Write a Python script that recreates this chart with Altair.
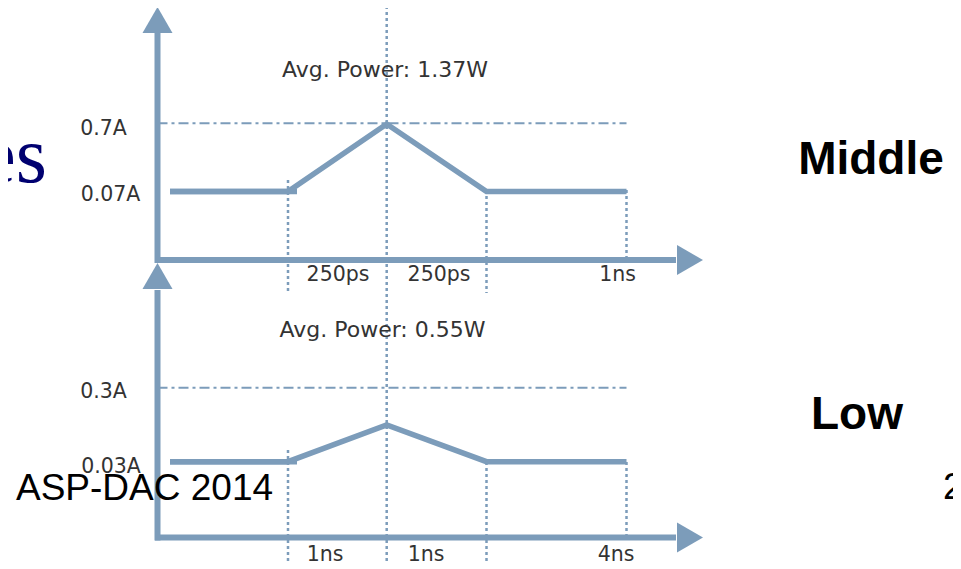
import altair as alt
import pandas as pd

STEEL = "#7C9CBA"
LABEL = "#333333"

# ---- schematic coordinate system of the diagram (time units along x, level units along y)
X_DOM = [-1.495, 7.955]
Y_DOM = [-0.235, 5.295]

# waveform breakpoints: start, rise start, peak, fall end, end
wave_t = [0.125, 1.305, 2.292, 3.29, 4.69]
mid_wave = [3.46, 3.46, 4.135, 3.46, 3.46]      # Middle mode: 0.07A -> 0.7A peak
low_wave = [0.758, 0.758, 1.125, 0.758, 0.758]   # Low mode: 0.03A -> peak
stub_t = [0.125, 1.395]                          # initial flat segment (slightly overshooting)

# reference (dash-dot) levels
ref_level = [4.142, 1.498]           # 0.7A , 0.3A
ref_t = [0.0, 4.69]

# dotted vertical guides: time, from, to
guide_t = [1.305, 3.29, 4.69, 1.305, 3.29, 4.69, 2.292]
guide_from = [3.575, 3.475, 3.475, 0.875, 0.755, 0.755, 5.375]
guide_to = [2.445, 2.445, 2.755, -0.315, -0.315, -0.025, -0.315]

# axes (two panels): x, x2, y, y2
axis_x = [0.0, -0.025, 0.0, -0.025]
axis_x2 = [0.0, 5.185, 0.0, 5.185]
axis_y = [5.045, 2.775, 2.475, 0.0]
axis_y2 = [2.745, 2.775, -0.03, 0.0]
arrow_t = [0.0, 5.325, 0.0, 5.325]
arrow_v = [5.175, 2.775, 2.615, 0.0]
arrow_shape = ["triangle-up", "triangle-right", "triangle-up", "triangle-right"]

# current labels
cur_text = ["0.7A", "0.07A", "0.3A", "0.03A"]
cur_t = [-0.54, -0.47, -0.54, -0.465]
cur_v = [4.09, 3.428, 1.455, 0.71]

# duration labels
dur_text = ["250ps", "250ps", "1ns", "1ns", "1ns", "4ns"]
dur_t = [1.805, 2.815, 4.60, 1.675, 2.685, 4.585]
dur_v = [2.625, 2.625, 2.625, -0.17, -0.17, -0.17]

# average power labels
pow_text = ["Avg. Power: 1.37W", "Avg. Power: 0.55W"]
pow_t = [2.275, 2.25]
pow_v = [4.68, 2.08]

# mode names
mode_text = ["Middle", "Low"]
mode_t = [7.135, 6.995]
mode_v = [3.775, 1.23]

# slide footer / title fragments
foot_text = ["ASP-DAC 2014", "2"]
foot_t = [-1.415, 7.855]
foot_v = [0.375, 0.385]
title_text = ["es"]
title_t = [-1.105]
title_v = [3.555]


def X(field="t"):
    return alt.X(f"{field}:Q", scale=alt.Scale(domain=X_DOM, nice=False, zero=False), axis=None)


def Y(field="v"):
    return alt.Y(f"{field}:Q", scale=alt.Scale(domain=Y_DOM, nice=False, zero=False), axis=None)


wave_rows = []
for i, (t, v) in enumerate(zip(wave_t, mid_wave)):
    wave_rows.append({"t": t, "v": v, "s": "mid", "i": i})
for i, (t, v) in enumerate(zip(wave_t, low_wave)):
    wave_rows.append({"t": t, "v": v, "s": "low", "i": i})
for i, t in enumerate(stub_t):
    wave_rows.append({"t": t, "v": mid_wave[0], "s": "mid_stub", "i": i})
    wave_rows.append({"t": t, "v": low_wave[0], "s": "low_stub", "i": i})
wave_df = pd.DataFrame(wave_rows)

ref_df = pd.DataFrame({"t": [ref_t[0]] * 2, "t2": [ref_t[1]] * 2, "v": ref_level})
guide_df = pd.DataFrame({"t": guide_t, "v": guide_from, "v2": guide_to})
axis_df = pd.DataFrame({"t": axis_x, "t2": axis_x2, "v": axis_y, "v2": axis_y2})
arrow_df = pd.DataFrame({"t": arrow_t, "v": arrow_v, "shape": arrow_shape})
cur_df = pd.DataFrame({"t": cur_t, "v": cur_v, "label": cur_text})
dur_df = pd.DataFrame({"t": dur_t, "v": dur_v, "label": dur_text})
pow_df = pd.DataFrame({"t": pow_t, "v": pow_v, "label": pow_text})
mode_df = pd.DataFrame({"t": mode_t, "v": mode_v, "label": mode_text})
foot_df = pd.DataFrame({"t": foot_t, "v": foot_v, "label": foot_text})
title_df = pd.DataFrame({"t": title_t, "v": title_v, "label": title_text})

guides = alt.Chart(guide_df).mark_rule(color=STEEL, strokeWidth=2.5, strokeDash=[3, 3]).encode(
    x=X(), y=Y(), y2=alt.Y2("v2:Q"))
refs = alt.Chart(ref_df).mark_rule(color=STEEL, strokeWidth=2, strokeDash=[10, 4, 3, 4]).encode(
    x=X(), x2=alt.X2("t2:Q"), y=Y())
axes = alt.Chart(axis_df).mark_rule(color=STEEL, strokeWidth=6, strokeCap="butt").encode(
    x=X(), x2=alt.X2("t2:Q"), y=Y(), y2=alt.Y2("v2:Q"))
arrows = alt.Chart(arrow_df).mark_point(filled=True, size=900, opacity=1, color=STEEL, strokeWidth=0).encode(
    x=X(), y=Y(), shape=alt.Shape("shape:N", scale=None))
waves = alt.Chart(wave_df).mark_line(color=STEEL, strokeWidth=5.5).encode(
    x=X(), y=Y(), detail="s:N", order="i:Q")

cur_labels = alt.Chart(cur_df).mark_text(font="DejaVu Sans", fontSize=20.5, color=LABEL,
                                         align="center", baseline="middle").encode(
    x=X(), y=Y(), text="label:N")
dur_labels = alt.Chart(dur_df).mark_text(font="DejaVu Sans", fontSize=20.5, color=LABEL,
                                         align="center", baseline="middle").encode(
    x=X(), y=Y(), text="label:N")
pow_labels = alt.Chart(pow_df).mark_text(font="DejaVu Sans", fontSize=22, color=LABEL,
                                         align="center", baseline="middle").encode(
    x=X(), y=Y(), text="label:N")
mode_labels = alt.Chart(mode_df).mark_text(font="Liberation Sans", fontSize=46, fontWeight="bold",
                                           color="#000000", align="center", baseline="middle").encode(
    x=X(), y=Y(), text="label:N")
foot_labels = alt.Chart(foot_df).mark_text(font="Liberation Sans", fontSize=37, color="#000000",
                                           align="left", baseline="alphabetic").encode(
    x=X(), y=Y(), text="label:N")
title_labels = alt.Chart(title_df).mark_text(font="Liberation Serif", fontSize=80, color="#000070",
                                             align="right", baseline="alphabetic").encode(
    x=X(), y=Y(), text="label:N")

chart = alt.layer(
    title_labels, refs, guides, axes, arrows, waves,
    cur_labels, dur_labels, pow_labels, mode_labels, foot_labels,
).properties(
    width=945, height=553,
    autosize=alt.AutoSizeParams(type="none"),
    padding=0,
    background="white",
).configure_view(stroke=None)

chart.save("out.html", embed_options={"renderer": "svg", "actions": False})
